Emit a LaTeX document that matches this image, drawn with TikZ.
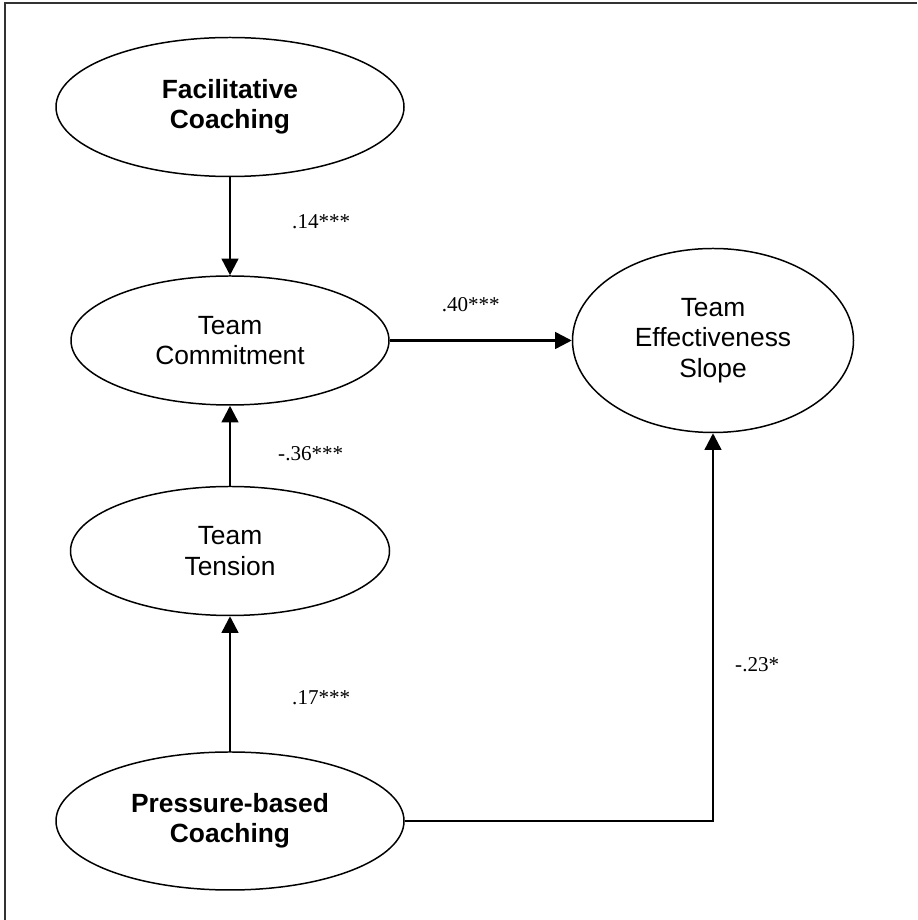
\documentclass[tikz,border=0pt]{standalone}
\usepackage{fontspec}
\setmainfont{Liberation Serif}
\newfontfamily\arialfont{Liberation Sans}
\usetikzlibrary{positioning,arrows.meta,shapes.geometric}
\tikzset{
    latent/.style={draw=black,ellipse,line width=0.85pt,inner sep=0pt,align=center,
        font=\arialfont\fontsize{15}{17.3}\selectfont},
    latentbold/.style={latent,font=\arialfont\bfseries\fontsize{15}{17.3}\selectfont},
    path/.style={-{Triangle[length=9.5pt,width=9.5pt]},draw=black,line width=1.4pt},
    coef/.style={font=\fontsize{12}{14}\selectfont,inner sep=0pt}
}

\begin{document}
\begin{tikzpicture}
            \useasboundingbox (0,0) rectangle (18.34,-18.40);
            \draw[line width=0.9pt,draw=black!80] (0.10,-18.40) |- (18.34,-0.06);
            \node[latentbold,minimum width=6.96cm,minimum height=2.78cm] (fac) at (4.60,-2.14) {Facilitative\\Coaching};
            \node[latent,minimum width=6.36cm,minimum height=2.58cm] (comm) [below=1.96cm of fac] {Team\\Commitment};
            \node[latent,minimum width=6.38cm,minimum height=2.58cm] (tens) [below=1.60cm of comm] {Team\\Tension};
            \node[latentbold,minimum width=6.96cm,minimum height=2.76cm] (pres) [below=2.70cm of tens] {Pressure-based\\Coaching};
            \node[latent,minimum width=5.62cm,minimum height=3.68cm] (tes) [right=3.64cm of comm] {Team\\Effectiveness\\Slope};
            \draw[path] (fac) -- (comm) node[coef,midway,right=1.22cm,yshift=0.10cm] (c14) {.14***};
            \draw[path] (tens) -- (comm) node[coef,midway,right=0.94cm,yshift=-0.16cm] (c36) {-.36***};
            \draw[path] (pres) -- (tens) node[coef,midway,right=1.22cm,yshift=-0.28cm] (c17) {.17***};
            \draw[path] (comm.east) -- (tes.west) node[coef,midway,above=0.55cm,xshift=-0.20cm] (c40) {.40***};
            \draw[path] (pres.east) -| (tes.south) node[coef,pos=0.75,right=0.42cm,yshift=-0.76cm] (c23) {-.23*};
        \end{tikzpicture}
\end{document}
